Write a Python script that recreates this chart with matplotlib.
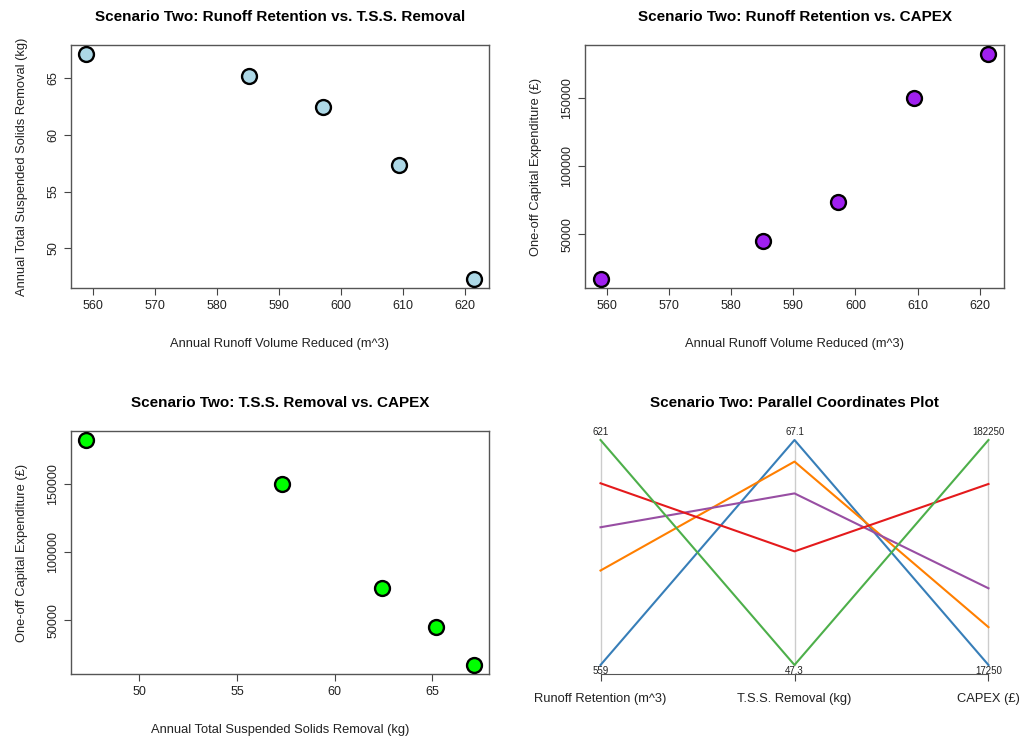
import matplotlib.pyplot as plt
import numpy as np

plt.rcParams['font.family'] = ['Liberation Sans', 'DejaVu Sans']

# scenario two data, one row per design option
runoff = [559.0, 585.2, 597.2, 609.4, 621.4]        # m^3
tss = [67.1, 65.2, 62.4, 57.3, 47.3]                # kg
capex = [17250, 45000, 73500, 150000, 182250]       # GBP
line_colors = ["#377EB8", "#FF7F00", "#984EA3", "#E41A1C", "#4DAF4A"]
pc_labels = ["Runoff Retention (m^3)", "T.S.S. Removal (kg)", "CAPEX (£)"]

W, H = 1021, 738
fig = plt.figure(figsize=(W / 100, H / 100), dpi=100)


def box(x0, y0, x1, y1):
    # pixel box (top-left origin) -> figure fraction
    return [x0 / W, 1 - y1 / H, (x1 - x0) / W, (y1 - y0) / H]


def pad_lim(v):
    # R style 4% axis padding
    lo, hi = min(v), max(v)
    r = hi - lo
    return lo - 0.04 * r, hi + 0.04 * r


def scatter_panel(rect, x, y, color, title, xlabel, ylabel, xticks, yticks):
    ax = fig.add_axes(box(*rect))
    ax.scatter(x, y, s=115, c=color, edgecolors="black", linewidths=1.7, zorder=3)
    ax.set_xlim(pad_lim(x))
    ax.set_ylim(pad_lim(y))
    ax.set_xticks(xticks)
    ax.set_yticks(yticks)
    ax.tick_params(axis="both", labelsize=9, length=5, color="#444444", labelcolor="#222222")
    ax.tick_params(axis="y", labelrotation=90)
    for lbl in ax.get_yticklabels():
        lbl.set_va("center")
    for s in ax.spines.values():
        s.set_color("#555555")
        s.set_linewidth(1)
    ax.set_title(title, fontsize=11, fontweight="bold", pad=17)
    ax.set_xlabel(xlabel, fontsize=9.3, labelpad=19, color="#222222")
    ax.set_ylabel(ylabel, fontsize=9.3, labelpad=14, color="#222222")
    return ax


scatter_panel((71, 45, 489, 288), runoff, tss, "#ADD8E6",
              "Scenario Two: Runoff Retention vs. T.S.S. Removal",
              "Annual Runoff Volume Reduced (m^3)",
              "Annual Total Suspended Solids Removal (kg)",
              [560, 570, 580, 590, 600, 610, 620], [50, 55, 60, 65])

scatter_panel((585, 45, 1004, 288), runoff, capex, "#A020F0",
              "Scenario Two: Runoff Retention vs. CAPEX",
              "Annual Runoff Volume Reduced (m^3)",
              "One-off Capital Expenditure (£)",
              [560, 570, 580, 590, 600, 610, 620], [50000, 100000, 150000])

scatter_panel((71, 431, 489, 674), tss, capex, "#00FF00",
              "Scenario Two: T.S.S. Removal vs. CAPEX",
              "Annual Total Suspended Solids Removal (kg)",
              "One-off Capital Expenditure (£)",
              [50, 55, 60, 65], [50000, 100000, 150000])

# parallel coordinates panel
ax = fig.add_axes(box(585, 431, 1004, 674))
cols = [runoff, tss, capex]
norm = []
for c in cols:
    c = np.array(c, dtype=float)
    norm.append((c - c.min()) / (c.max() - c.min()))
norm = np.array(norm)
xs = np.arange(1, 4)
for i in range(3):
    ax.plot([xs[i], xs[i]], [0, 1], color="#CCCCCC", lw=1, zorder=1)
for j in range(len(runoff)):
    ax.plot(xs, norm[:, j], color=line_colors[j], lw=1.5, zorder=2)
top_txt = ["%d" % max(runoff), "%g" % max(tss), "%d" % max(capex)]
bot_txt = ["%d" % min(runoff), "%g" % min(tss), "%d" % min(capex)]
for i in range(3):
    ax.annotate(top_txt[i], (xs[i], 1), xytext=(0, 2), textcoords="offset points",
                ha="center", va="bottom", fontsize=7, color="#222222")
    ax.annotate(bot_txt[i], (xs[i], 0), xytext=(0, -1), textcoords="offset points",
                ha="center", va="top", fontsize=7, color="#222222")
ax.set_xlim(0.92, 3.08)
ax.set_ylim(-0.04, 1.04)
for s in ["top", "right", "left"]:
    ax.spines[s].set_visible(False)
ax.spines["bottom"].set_bounds(1, 3)
ax.spines["bottom"].set_color("#555555")
ax.set_yticks([])
ax.set_xticks(xs)
ax.set_xticklabels(pc_labels)
ax.tick_params(axis="x", labelsize=9.3, length=5, color="#444444", labelcolor="#222222", pad=9)
ax.set_title("Scenario Two: Parallel Coordinates Plot", fontsize=11, fontweight="bold", pad=17)

fig.savefig("out.png", dpi=100)
